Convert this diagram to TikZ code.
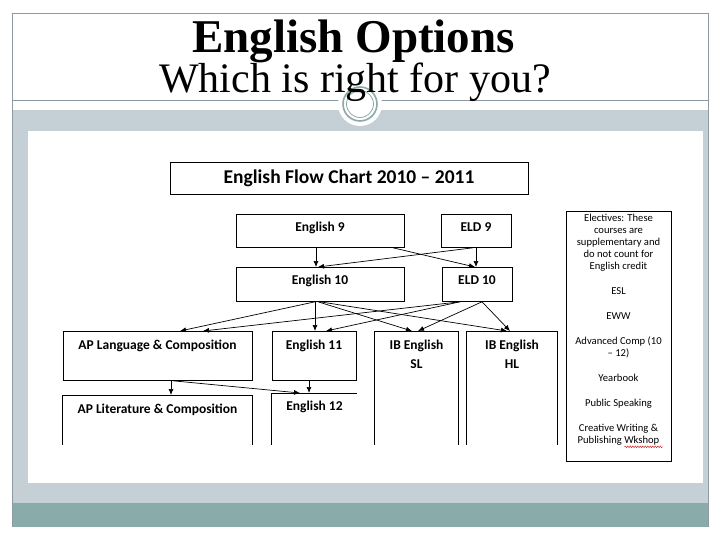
\documentclass[tikz,border=0pt]{standalone}
\usepackage{fontspec}
\setmainfont{Liberation Serif}
\newfontfamily\chartfont[Ligatures=TeX]{Carlito}
\usetikzlibrary{calc,arrows.meta,decorations.pathmorphing}

\definecolor{framegray}{HTML}{8E9AA0}
\definecolor{bandgray}{HTML}{C5D0D6}
\definecolor{bandteal}{HTML}{89ABAA}
\definecolor{ringteal}{HTML}{8FA8A8}

\tikzset{
	box/.style={draw, line width=0.8pt, inner sep=0pt, anchor=north,
		font=\chartfont\bfseries\fontsize{13.5}{15}\selectfont},
	openbox/.style={box, draw=none},
	flow/.style={line width=0.7pt, -{Latex[length=6pt,width=5pt]}},
	edge/.style={line width=0.8pt}
}

\begin{document}
\begin{tikzpicture}[x=1pt,y=-1pt]
	\useasboundingbox (0,0) rectangle (720,540);
	% slide
	\fill[white] (0,0) rectangle (720,540);
	\fill[bandgray] (12,110) rectangle (708,503);
	\fill[bandteal] (12,503) rectangle (708,527);
	\fill[white] (28,131) rectangle (703,483);
	\draw[framegray, line width=0.8pt] (12,527) |- (708,13) -- (708,527);
	\draw[framegray, line width=0.8pt] (12,100) -- (708,100);
	\fill[white] (360,104) circle (22);
	\draw[ringteal, line width=1.6pt] (360,104) circle (17);
	\draw[ringteal, line width=0.8pt] (360,104) circle (13.5);
	\node (head) [font=\bfseries\fontsize{47}{50}\selectfont, anchor=base] at (353.5,53) {English Options};
	\node (sub) [font=\fontsize{42}{46}\selectfont, anchor=base] at (355,93) {Which is right for you?};

	% flow chart
	\node (title) [box, anchor=center, minimum width=358, minimum height=32,
		font=\chartfont\bfseries\fontsize{19.5}{22}\selectfont] at (349,178) {English Flow Chart 2010 -- 2011};
	\node (eng9) [box, minimum width=168, text height=17, text depth=16] at (320,214) {English 9};
	\node (eld9) [box, minimum width=70, text height=17, text depth=16] at (476,214) {ELD 9};
	\node (eng10) [box, minimum width=168, text height=17, text depth=17] at (320,267) {English 10};
	\node (eld10) [box, minimum width=70, text height=17, text depth=17] at (477,267) {ELD 10};
	\node (aplang) [box, minimum width=189, text height=18, text depth=31] at (157.5,331) {AP Language \& Composition};
	\node (eng11) [box, minimum width=84, text height=18, text depth=31] at (314,331) {English 11};
	\node (ibsl) [openbox, minimum width=83, text height=18, text depth=95] at (416.5,331)
		{\parbox[t]{80pt}{\centering IB English\\[4pt]SL}};
	\node (ibhl) [openbox, minimum width=90, text height=18, text depth=95] at (512,331)
		{\parbox[t]{86pt}{\centering IB English\\[4pt]HL}};
	\node (aplit) [openbox, minimum width=189, text height=18, text depth=31] at (157.5,395) {AP Literature \& Composition};
	\node (eng12) [openbox, minimum width=85, text height=17, text depth=34] at (314.5,393) {English 12};
	\node (elect) [box, minimum width=105, text height=10.5, text depth=239.5,
		font=\chartfont\fontsize{10.6}{12}\selectfont] at (618.5,211)
		{\parbox[t]{103pt}{\centering Electives: These\\courses are\\supplementary and\\do not count for\\English credit\\[13pt]
		ESL\\[13pt]EWW\\[13pt]Advanced Comp (10\\-- 12)\\[13pt]Yearbook\\[13pt]Public Speaking\\[13pt]
		Creative Writing \&\\Publishing Wkshop}};

	\draw[edge] (ibsl.south west) |- (ibsl.north east) -- (ibsl.south east);
	\draw[edge] (ibhl.south west) |- (ibhl.north east) -- (ibhl.south east);
	\draw[edge] (aplit.south west) |- (aplit.north east) -- (aplit.south east);
	\draw[edge] (eng12.south west) |- (eng12.north east);
	\draw[red!80!black, line width=0.4pt, decorate, decoration={snake, amplitude=0.8pt, segment length=2.5pt}]
		($(elect.south)+(6,-15)$) -- ($(elect.south)+(44,-15)$);

	\draw[flow] ([xshift=-4pt]eng9.south) -- ([xshift=-4pt]eng10.north);
	\draw[flow] ([xshift=-3pt]eld9.south) -- ([xshift=-2pt]eng10.north);
	\draw[flow] ([xshift=73pt]eng9.south) -- ([xshift=-2pt]eld10.north);
	\draw[flow] (eld9.south) -- ([xshift=-1pt]eld10.north);
	\draw[flow] ([xshift=-5pt]eng10.south) -- ([xshift=22.5pt]aplang.north);
	\draw[flow] ([xshift=-17pt]eld10.south) -- ([xshift=45.5pt]aplang.north);
	\draw[flow] ([xshift=-5pt]eng10.south) -- ([xshift=1pt]eng11.north);
	\draw[flow] ([xshift=-17pt]eld10.south) -- ([xshift=12pt]eng11.north);
	\draw[flow] ([xshift=-2pt]eng10.south) -- ([xshift=-4.5pt]ibsl.north);
	\draw[flow] ([xshift=5pt]eld10.south) -- ([xshift=1.5pt]ibsl.north);
	\draw[flow] (eng10.south) -- ([xshift=-5pt]ibhl.north);
	\draw[flow] ([xshift=5pt]eld10.south) -- ([xshift=-2pt]ibhl.north);
	\draw[flow] ([xshift=13.5pt]aplang.south) -- ([xshift=13.5pt]aplit.north);
	\draw[flow] ([xshift=15.5pt]aplang.south) -- ([xshift=-14.5pt]eng12.north);
	\draw[flow] ([xshift=-5pt]eng11.south) -- ([xshift=-5.5pt]eng12.north);
\end{tikzpicture}
\end{document}
